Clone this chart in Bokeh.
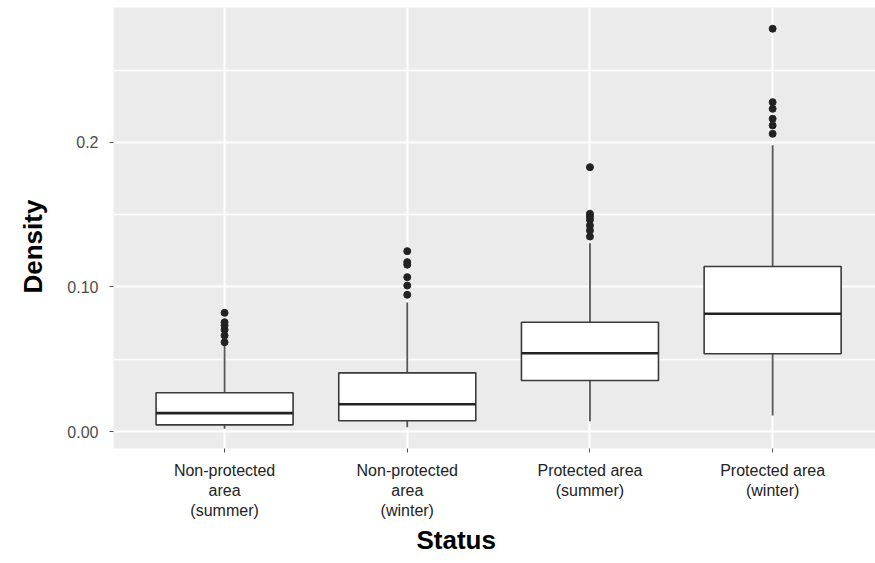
from bokeh.plotting import figure
from bokeh.models import Range1d, FixedTicker, ColumnDataSource, Title
from bokeh.embed import file_html
from bokeh.resources import INLINE

# ---- data ----
categories = ["Non-protected\narea\n(summer)", "Non-protected\narea\n(winter)",
              "Protected area\n(summer)", "Protected area\n(winter)"]
positions = [1, 2, 3, 4]
q1 = [0.0046, 0.0074, 0.0353, 0.0538]
median = [0.0127, 0.0189, 0.0542, 0.0815]
q3 = [0.0268, 0.0406, 0.0756, 0.1142]
lower_whisker = [0.0019, 0.0030, 0.0071, 0.0111]
upper_whisker = [0.0595, 0.0893, 0.1303, 0.1980]
outliers = [
    [0.0618, 0.0664, 0.0704, 0.0734, 0.0756, 0.0821],
    [0.0946, 0.1010, 0.1068, 0.1154, 0.1172, 0.1248],
    [0.1349, 0.1391, 0.1426, 0.1465, 0.1488, 0.1507, 0.1829],
    [0.2060, 0.2118, 0.2164, 0.2233, 0.2279, 0.2787],
]
y_ticks = [0, 0.1, 0.2]
y_tick_labels = ["0.00", "0.10", "0.2"]
y_minor_ticks = [0.05, 0.15, 0.25]

BOX_W = 0.75
FONT = "Liberation Sans"

p = figure(width=875, height=563, output_backend="svg", toolbar_location=None,
           x_range=Range1d(0.392, 4.563), y_range=Range1d(-0.01176, 0.2934),
           min_border_left=113, min_border_right=0, min_border_top=7, min_border_bottom=115)
p.background_fill_color = "#EBEBEB"
p.border_fill_color = "white"
p.outline_line_color = None

# axes
p.xaxis.ticker = FixedTicker(ticks=positions)
p.xaxis.major_label_overrides = {pos: lab for pos, lab in zip(positions, categories)}
p.yaxis.ticker = FixedTicker(ticks=y_ticks, minor_ticks=y_minor_ticks)
p.yaxis.major_label_overrides = {t: lab for t, lab in zip(y_ticks, y_tick_labels)}
for ax in (p.xaxis[0], p.yaxis[0]):
    ax.axis_line_color = None
    ax.minor_tick_line_color = None
    ax.major_tick_line_color = "#555555"
    ax.major_tick_in = 0
    ax.major_tick_out = 4
    ax.major_label_text_font = FONT
    ax.major_label_text_font_size = "16px"
p.xaxis.major_label_text_color = "#222222"
p.yaxis.major_label_text_color = "#4D4D4D"
p.xaxis.major_label_standoff = 9
p.yaxis.major_label_standoff = 11

# grid
p.xgrid.grid_line_color = "white"
p.xgrid.grid_line_width = 2
p.ygrid.grid_line_color = "white"
p.ygrid.grid_line_width = 2
p.ygrid.minor_grid_line_color = "white"
p.ygrid.minor_grid_line_width = 1.3

# boxes
src = ColumnDataSource(dict(x=positions, q1=q1, q3=q3, med=median, lo=lower_whisker, hi=upper_whisker,
                            left=[x - BOX_W / 2 for x in positions], right=[x + BOX_W / 2 for x in positions]))
p.segment(x0="x", y0="q3", x1="x", y1="hi", source=src, line_color="#555555", line_width=1.8)
p.segment(x0="x", y0="q1", x1="x", y1="lo", source=src, line_color="#555555", line_width=1.8)
p.vbar(x="x", width=BOX_W, bottom="q1", top="q3", source=src, fill_color="white",
       line_color="#3a3a3a", line_width=1.6)
p.segment(x0="left", y0="med", x1="right", y1="med", source=src, line_color="#222222", line_width=2.6)

ox, oy = [], []
for pos, vals in zip(positions, outliers):
    for v in vals:
        ox.append(pos)
        oy.append(v)
p.scatter(ox, oy, size=7, fill_color="#222222", line_color="#222222")

# axis titles
p.add_layout(Title(text="Density", align="left", offset=155, standoff=30, vertical_align="top",
                   text_font=FONT, text_font_size="26px", text_font_style="bold",
                   text_color="black"), "left")
p.add_layout(Title(text="Status", align="left", offset=303, standoff=0,
                   text_font=FONT, text_font_size="26px", text_font_style="bold",
                   text_color="black"), "below")

open("out.html", "w").write(file_html(p, INLINE))
